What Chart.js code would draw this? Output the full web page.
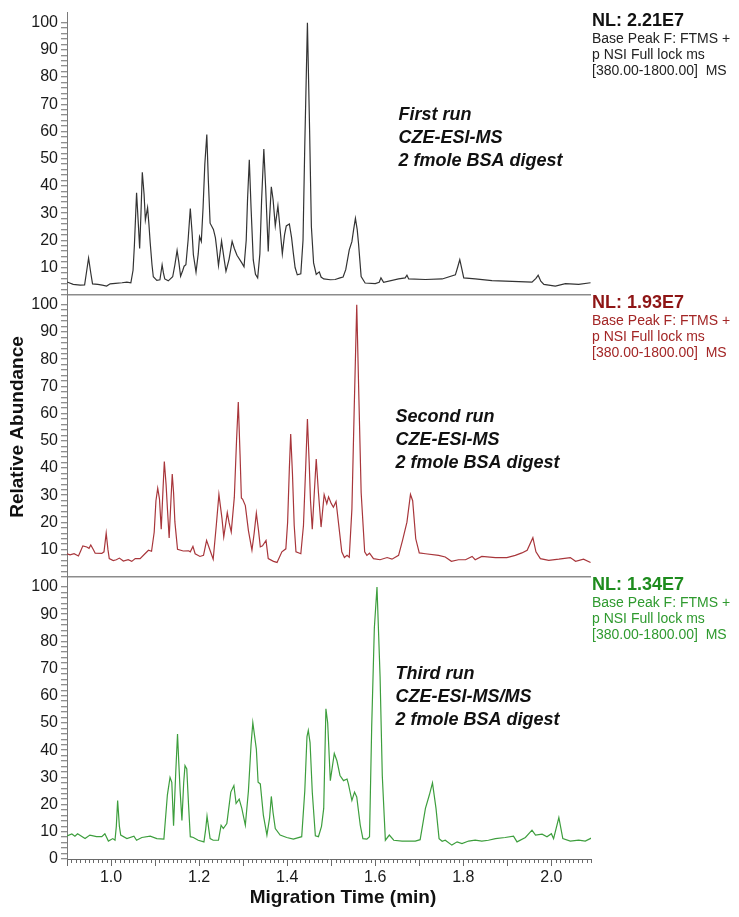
<!DOCTYPE html>
<html>
<head>
<meta charset="utf-8">
<title>CZE-ESI-MS base peak electropherograms</title>
<script src="https://cdn.jsdelivr.net/npm/chart.js@4/dist/chart.umd.min.js"></script>
<style>
  html, body { margin: 0; padding: 0; background: #fff; }
  #wrap { width: 739px; height: 917px; }
</style>
</head>
<body>
<div id="wrap"><canvas id="chart" width="739" height="917"></canvas></div>
<script>
// Three base peak traces (migration time in min, relative abundance in %)
const time1 = [0.900,0.914,0.930,0.940,0.944,0.949,0.954,0.958,0.970,0.980,0.990,0.998,1.010,1.025,1.036,1.045,1.050,1.053,1.058,1.062,1.065,1.068,1.071,1.075,1.078,1.083,1.086,1.089,1.093,1.096,1.104,1.111,1.116,1.119,1.122,1.130,1.140,1.145,1.150,1.154,1.158,1.163,1.166,1.170,1.175,1.180,1.184,1.187,1.193,1.198,1.201,1.205,1.209,1.213,1.2175,1.221,1.225,1.2325,1.237,1.240,1.244,1.251,1.256,1.261,1.268,1.275,1.280,1.286,1.297,1.302,1.307,1.310,1.314,1.318,1.323,1.328,1.333,1.338,1.342,1.347,1.351,1.357,1.360,1.364,1.368,1.373,1.379,1.384,1.389,1.394,1.398,1.405,1.410,1.414,1.418,1.423,1.431,1.436,1.440,1.446,1.451,1.455,1.460,1.466,1.473,1.477,1.483,1.498,1.509,1.520,1.527,1.533,1.541,1.547,1.551,1.555,1.559,1.562,1.568,1.577,1.600,1.609,1.613,1.619,1.653,1.668,1.672,1.676,1.714,1.752,1.782,1.787,1.792,1.796,1.801,1.827,1.865,1.911,1.956,1.965,1.970,1.976,1.983,2.009,2.032,2.062,2.089];
const abund1 = [4.7,3.8,3.5,3.6,8,13.5,8,4,3.8,3.5,3.2,4,4.2,4.4,4.6,4.4,9,18,37.5,26,17,30,45,37,27.5,32,26,19,11,6.6,5.3,5.5,11,8,5.8,5.1,6.6,11,16.3,12,6.8,9,10.5,11,20,31.7,23,14.7,8.3,15,21.4,19.6,32,48,58.9,42,26.3,24,21,16.9,10.7,19.7,14,8.6,13,19.6,17,14.5,11.7,10.3,20,35,49.6,32,12.8,7.5,6.2,15,35,53.6,40,15.9,28,39.7,35,25.3,32.7,24,15,22,25.3,26,21,15.3,10,7.3,7.7,20,55,100,60,25,11.7,7.5,8.4,6.5,5.8,5.5,5.6,6.2,6.5,9.2,16.5,19.5,24,28.1,24,18.9,6.7,4.3,4.1,4.6,6.2,4.6,5.8,6.2,7.2,5.8,5.6,5.8,7.3,10,12.9,10,6.2,5.8,5.2,4.9,4.6,6,7.2,5,3.8,3.2,4.1,3.8,4.4];

const time2 = [0.900,0.907,0.916,0.926,0.931,0.936,0.945,0.950,0.954,0.960,0.964,0.979,0.984,0.989,0.993,0.996,1.005,1.012,1.019,1.028,1.039,1.047,1.055,1.066,1.077,1.085,1.092,1.098,1.102,1.106,1.110,1.114,1.118,1.121,1.125,1.128,1.132,1.136,1.139,1.142,1.145,1.151,1.164,1.176,1.180,1.186,1.191,1.202,1.210,1.214,1.217,1.223,1.232,1.239,1.245,1.252,1.256,1.260,1.264,1.268,1.273,1.280,1.285,1.289,1.293,1.296,1.299,1.305,1.312,1.320,1.325,1.330,1.335,1.339,1.344,1.352,1.357,1.369,1.377,1.388,1.397,1.401,1.405,1.408,1.412,1.416,1.420,1.431,1.437,1.442,1.446,1.450,1.453,1.457,1.462,1.466,1.471,1.477,1.484,1.490,1.494,1.500,1.505,1.511,1.517,1.524,1.530,1.536,1.541,1.547,1.552,1.558,1.563,1.568,1.576,1.581,1.587,1.596,1.611,1.627,1.638,1.653,1.662,1.672,1.680,1.685,1.692,1.700,1.714,1.744,1.759,1.773,1.789,1.805,1.820,1.827,1.842,1.873,1.899,1.918,1.933,1.945,1.958,1.965,1.975,1.994,2.017,2.043,2.055,2.073,2.089];
const abund2 = [8.5,8.1,8.5,7.7,9.5,11.4,11,10.5,11.7,10,8.7,8.6,9.2,16.1,10,6.7,6.0,6.3,6.9,5.8,6.3,5.7,6.7,6.7,8.5,9.8,9.4,16.4,28,32.6,28.7,17.5,32,42.4,34,25.2,14.3,28,37.8,31,20.2,10.1,9.5,9.6,9.2,11.2,8.5,7.5,7.9,11,13.4,10.6,6.5,18.9,30.3,21.4,14.7,19,23.6,20,16.5,29.3,50,64.3,45,29,28.5,26.2,17,9.8,16,23.4,17,11,11.4,13.4,6.7,5.7,5.3,9.2,10.3,20,40,52.5,38,18.9,9.2,8.5,18.9,40,58,42,28,17.5,32,43.3,31,18.3,30.2,26.9,29.4,27,25.6,27.7,19.2,9.2,7.1,7.9,7.2,24.9,60,100,65,31,9.2,7.9,8.7,6.7,6.3,7.1,6.5,7.9,13.4,20.1,30.3,28,14,8.8,8.5,7.9,7.3,5.7,6.3,6.3,7.5,6.3,7.5,7.1,7.1,7.9,8.8,9.8,14.4,9.2,6.7,6.1,6.5,7.1,5.7,6.5,5.3];

const time3 = [0.900,0.911,0.918,0.924,0.941,0.952,0.967,0.979,0.986,0.994,1.004,1.009,1.012,1.015,1.019,1.022,1.036,1.052,1.058,1.070,1.089,1.104,1.120,1.128,1.134,1.138,1.142,1.147,1.151,1.154,1.157,1.161,1.165,1.168,1.172,1.176,1.180,1.187,1.198,1.211,1.215,1.218,1.222,1.225,1.232,1.244,1.250,1.255,1.263,1.272,1.279,1.284,1.291,1.297,1.305,1.312,1.318,1.322,1.330,1.334,1.339,1.346,1.354,1.360,1.364,1.368,1.373,1.384,1.399,1.414,1.433,1.440,1.445,1.448,1.452,1.457,1.464,1.471,1.478,1.483,1.488,1.492,1.498,1.507,1.513,1.520,1.528,1.536,1.539,1.547,1.553,1.558,1.566,1.572,1.581,1.587,1.592,1.598,1.604,1.611,1.616,1.623,1.632,1.642,1.661,1.691,1.702,1.714,1.723,1.730,1.738,1.745,1.752,1.759,1.774,1.786,1.797,1.812,1.827,1.842,1.857,1.873,1.895,1.914,1.922,1.941,1.956,1.964,1.979,1.990,2.000,2.005,2.017,2.026,2.043,2.062,2.077,2.091];
const abund3 = [8.5,9.2,8.4,9.3,7.5,8.8,8.2,8.2,9.3,6.6,7.5,6.9,12,21.5,12,8.8,7.5,8.4,6.9,7.9,8.4,7.5,7.3,23.6,30,28.2,12.2,32,45.9,35,24.8,14.2,28,34.3,33.1,20,8.2,7.9,6.9,6.3,11,15.8,11,7.5,6.9,6.9,12.4,11.2,13,24.6,27,20.4,22,18.6,12.4,25,42,50.1,40.4,28.2,27.6,16,8.8,15,23,17,11.2,8.8,7.9,7.3,8.2,25,45,47.3,42.8,24.6,8.5,8.2,12,18.6,55.2,50.1,28.8,38.8,36.1,30.7,28.8,29.4,27.6,21.5,24.6,22.8,12.4,7.5,7.3,8.2,48.9,85,100,67,30.7,6.9,8.8,6.9,6.6,6.6,7.1,18.6,23.6,28,18.6,7.5,6.5,6.9,5.1,6.3,5.7,6.6,6.9,6.6,6.9,7.5,7.9,8.4,6.3,7.9,10.6,8.8,9.1,8.2,9.3,7.5,15.2,7.5,6.6,6.9,6.6,7.7];

// Panel labels
const runNames = ['First run', 'Second run', 'Third run'];
const methods = ['CZE-ESI-MS', 'CZE-ESI-MS', 'CZE-ESI-MS/MS'];
const sampleName = '2 fmole BSA digest';
const nlValues = ['2.21E7', '1.93E7', '1.34E7'];
const scanFilter = ['Base Peak F: FTMS +', 'p NSI Full lock ms', '[380.00-1800.00]  MS'];
const yTickLabels = [0, 10, 20, 30, 40, 50, 60, 70, 80, 90, 100];
const xTickLabels = [1.0, 1.2, 1.4, 1.6, 1.8, 2.0];

// Styling
const FONT = "'Liberation Sans', Arial, Helvetica, sans-serif";
const lineColors = ['#333333', '#a8363b', '#3d9e3d'];
const nlColors = ['#111111', '#8e1515', '#1e8c1e'];
const filterColors = ['#222222', '#a32626', '#2f9a2f'];
// where each run's annotation starts (data units of its own panel)
const notePos = [{ x: 1.653, y: 64.3 }, { x: 1.646, y: 56.8 }, { x: 1.646, y: 66.0 }];

function toPoints(t, v){
  return t.map((x, i) => ({ x: x, y: v[i] }));
}

function yAxis(idx, showZero){
  return {
    type: 'linear',
    position: 'left',
    stack: 'runs',
    stackWeight: 1,
    weight: 3 - idx,
    min: 0,
    max: 103.7,
    border: { color: '#7a7a7a', width: 1 },
    grid: {
      drawOnChartArea: true,
      tickLength: 6,
      lineWidth: 1.5,
      color: c => (c.tick && c.tick.value === 0 && idx < 2) ? '#8c8c8c' : 'rgba(0,0,0,0)',
      tickColor: c => (c.tick && c.tick.value > 100) ? 'rgba(0,0,0,0)' : '#6a6a6a',
      tickWidth: 1
    },
    ticks: {
      stepSize: 2,
      autoSkip: false,
      includeBounds: false,
      padding: 3,
      color: '#1a1a1a',
      font: { family: FONT, size: 16 },
      callback: v => (yTickLabels.includes(v) && (showZero || v > 0)) ? String(v) : ''
    },
    afterFit: s => { s.width = 67; }
  };
}

// Minor x ticks, panel texts and axis titles
const decorPlugin = {
  id: 'decor',
  afterDraw(chart){
    const ctx = chart.ctx;
    const xs = chart.scales.x;
    const area = chart.chartArea;
    ctx.save();

    // minor ticks every 0.01 min
    ctx.strokeStyle = '#6a6a6a';
    ctx.lineWidth = 1;
    ctx.beginPath();
    for(let k = 90; k <= 209; k++){
      if(k % 10 === 0) continue;
      const px = Math.round(xs.getPixelForValue(k / 100)) + 0.5;
      ctx.moveTo(px, xs.top);
      ctx.lineTo(px, xs.top + 4);
    }
    ctx.stroke();

    ['y1', 'y2', 'y3'].forEach((id, i) => {
      const ys = chart.scales[id];
      // NL block at the right
      ctx.textAlign = 'left';
      ctx.textBaseline = 'alphabetic';
      ctx.fillStyle = nlColors[i];
      ctx.font = 'bold 18px ' + FONT;
      ctx.fillText('NL: ' + nlValues[i], area.right + 1, ys.top + 13);
      ctx.fillStyle = filterColors[i];
      ctx.font = '14px ' + FONT;
      scanFilter.forEach((line, j) => {
        ctx.fillText(line, area.right + 1, ys.top + 30 + j * 16);
      });
      // run annotation
      const nx = xs.getPixelForValue(notePos[i].x);
      const ny = ys.getPixelForValue(notePos[i].y);
      ctx.fillStyle = '#111';
      ctx.font = 'italic bold 18px ' + FONT;
      [runNames[i], methods[i], sampleName].forEach((line, j) => {
        ctx.fillText(line, nx, ny + j * 23);
      });
    });

    // axis titles
    ctx.fillStyle = '#111';
    ctx.font = 'bold 19px ' + FONT;
    ctx.textAlign = 'center';
    ctx.textBaseline = 'middle';
    ctx.fillText('Migration Time (min)', 343, 898);
    ctx.translate(18, 427);
    ctx.rotate(-Math.PI / 2);
    ctx.fillText('Relative Abundance', 0, 0);
    ctx.restore();
  }
};

document.addEventListener('DOMContentLoaded', () => {
  const series = [[time1, abund1], [time2, abund2], [time3, abund3]];
  const datasets = series.map((s, i) => ({
    label: runNames[i],
    data: toPoints(s[0], s[1]),
    yAxisID: 'y' + (i + 1),
    borderColor: lineColors[i],
    borderWidth: 1.2,
    pointRadius: 0,
    tension: 0,
    fill: false
  }));

  new Chart(document.getElementById('chart').getContext('2d'), {
    type: 'line',
    data: { datasets },
    options: {
      responsive: false,
      animation: false,
      devicePixelRatio: 1,
      layout: { padding: { top: 9, right: 148, left: 0, bottom: 0 } },
      plugins: { legend: { display: false }, tooltip: { enabled: false } },
      scales: {
        x: {
          type: 'linear',
          min: 0.9,
          max: 2.09,
          border: { color: '#6a6a6a', width: 1 },
          grid: { drawOnChartArea: false, tickLength: 7, tickColor: '#6a6a6a' },
          ticks: {
            stepSize: 0.1,
            autoSkip: false,
            includeBounds: false,
            maxRotation: 0,
            padding: 2,
            color: '#1a1a1a',
            font: { family: FONT, size: 16 },
            callback: v => {
              const lab = xTickLabels.find(t => Math.abs(t - v) < 1e-6);
              return lab !== undefined ? lab.toFixed(1) : '';
            }
          },
          afterFit: s => { s.height = 58; }
        },
        y1: yAxis(0, false),
        y2: yAxis(1, false),
        y3: yAxis(2, true)
      }
    },
    plugins: [decorPlugin]
  });
});
</script>
</body>
</html>
